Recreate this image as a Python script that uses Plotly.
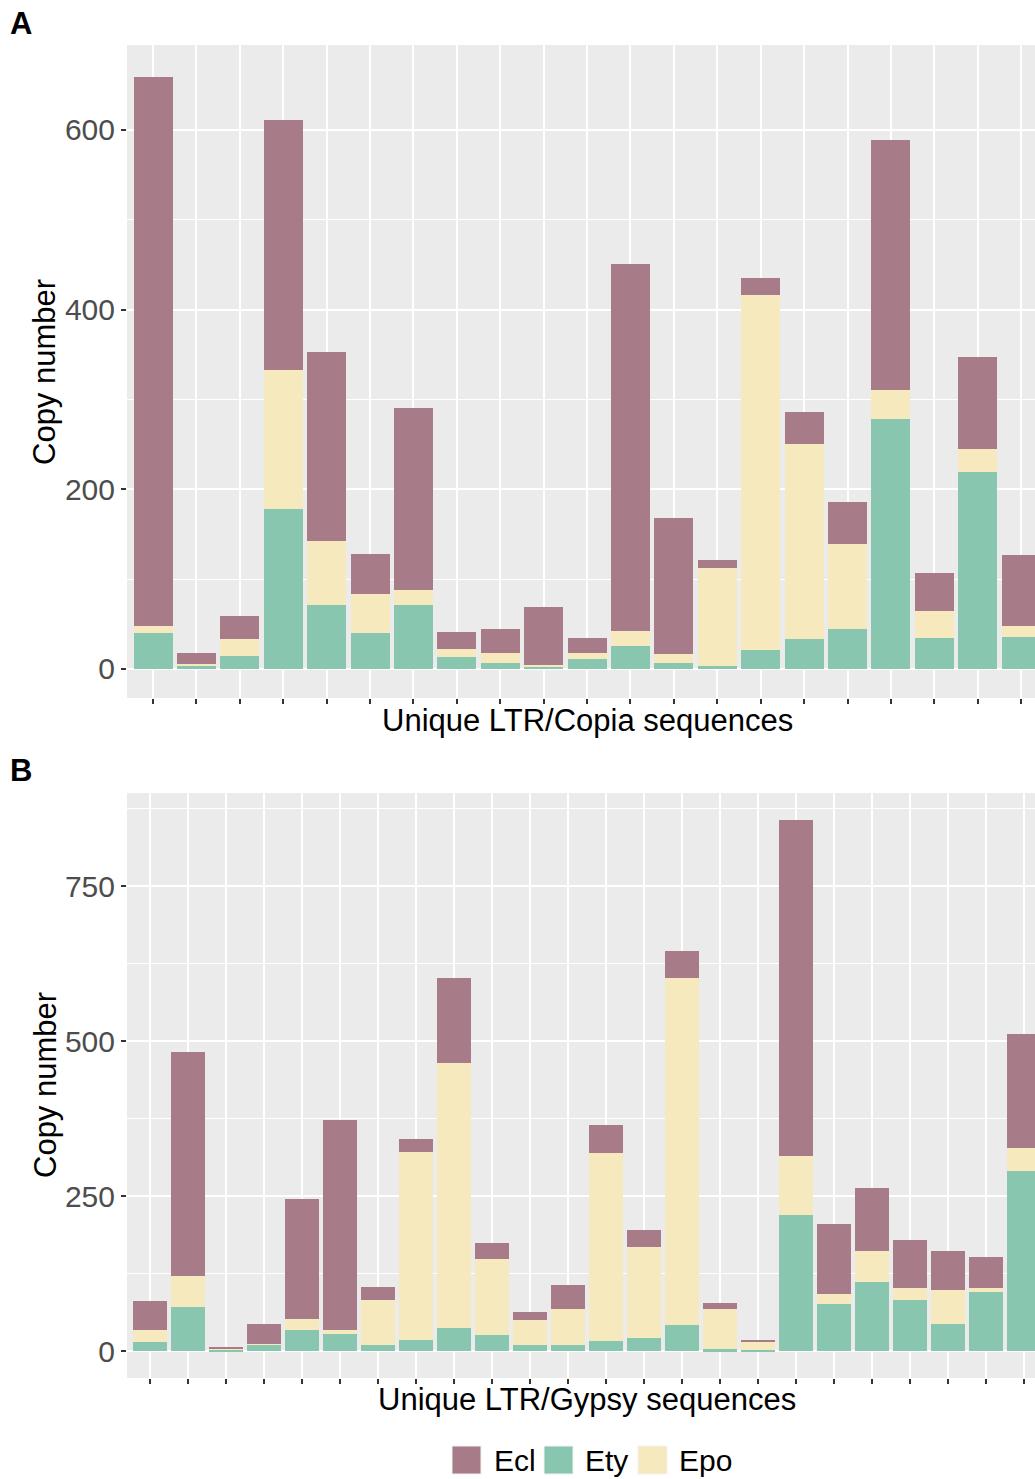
import plotly.graph_objects as go

# ---------------- data ----------------
series_names = ["Ecl", "Ety", "Epo"]
series_colors = {"Ecl": "#A77C88", "Ety": "#88C6B0", "Epo": "#F6E9BE"}

copia_categories = [f"Copia_{i:02d}" for i in range(1, 22)]
copia_ety = [40, 3, 15, 178, 71, 40, 71, 13, 7, 3, 11, 26, 7, 3, 21, 33, 45, 278, 35, 219, 36]
copia_epo = [8, 3, 18, 155, 72, 43, 17, 9, 11, 1, 7, 16, 10, 109, 395, 217, 94, 33, 29, 26, 12]
copia_ecl = [611, 12, 26, 278, 210, 45, 202, 19, 27, 65, 16, 409, 151, 9, 19, 36, 47, 278, 43, 102, 79]

gypsy_categories = [f"Gypsy_{i:02d}" for i in range(1, 25)]
gypsy_ety = [15, 71, 3, 10, 34, 28, 10, 17, 37, 26, 10, 10, 16, 21, 42, 3, 2, 219, 76, 111, 82, 44, 95, 290]
gypsy_epo = [19, 50, 1, 1, 18, 6, 72, 304, 428, 122, 40, 58, 304, 146, 560, 65, 12, 95, 16, 50, 20, 55, 7, 37]
gypsy_ecl = [47, 362, 2, 33, 194, 338, 22, 21, 136, 27, 13, 38, 45, 28, 43, 10, 4, 542, 113, 102, 77, 63, 49, 184]

copia_yticks = [0, 200, 400, 600]
gypsy_yticks = [0, 250, 500, 750]

# ---------------- figure ----------------
W, H = 1035, 1479
FONT = "Liberation Sans, Arial, Helvetica, sans-serif"

fig = go.Figure()

panels = [
    ("x", "y", copia_categories, {"Ety": copia_ety, "Epo": copia_epo, "Ecl": copia_ecl}),
    ("x2", "y2", gypsy_categories, {"Ety": gypsy_ety, "Epo": gypsy_epo, "Ecl": gypsy_ecl}),
]
for xa, ya, cats, vals in panels:
    for name in ["Ety", "Epo", "Ecl"]:  # stacking order bottom -> top
        fig.add_trace(go.Bar(
            x=cats, y=vals[name], name=name, width=0.9,
            marker=dict(color=series_colors[name], line=dict(width=0)),
            xaxis=xa, yaxis=ya, showlegend=False,
        ))

def px_x(p):
    return p / W

def px_y(p):
    return 1 - p / H

xdom = [px_x(127), 1.0]
common_x = dict(
    type="category", domain=xdom, showticklabels=False, ticks="outside",
    ticklen=5, tickwidth=1.5, tickcolor="#333333", showgrid=True,
    gridcolor="white", gridwidth=1.5, zeroline=False, showline=False,
)
common_y = dict(
    ticks="outside", ticklen=5, tickwidth=1.5, tickcolor="#333333",
    tickfont=dict(size=30, color="#4D4D4D", family=FONT),
    showgrid=True, gridcolor="white", gridwidth=1.5, zeroline=False, showline=False,
)

fig.update_layout(
    width=W, height=H, margin=dict(l=0, r=0, t=0, b=0),
    paper_bgcolor="white", plot_bgcolor="#EBEBEB",
    barmode="stack", bargap=0.1, showlegend=False,
    font=dict(family=FONT),
    xaxis=dict(common_x, anchor="y", range=[-0.6, 20.32]),
    yaxis=dict(common_y, anchor="x", domain=[px_y(698), px_y(45)],
               range=[-32.3, 694.6], tickvals=copia_yticks,
               minor=dict(dtick=100, tick0=0, showgrid=True, gridcolor="white", gridwidth=1, ticks="")),
    xaxis2=dict(common_x, anchor="y2", range=[-0.6, 23.29]),
    yaxis2=dict(common_y, anchor="x2", domain=[px_y(1378), px_y(793)],
                range=[-43.5, 900], tickvals=gypsy_yticks,
                minor=dict(dtick=125, tick0=0, showgrid=True, gridcolor="white", gridwidth=1, ticks="")),
)

annotations = []
title_font = dict(size=31, color="black", family=FONT)
# panel letters
annotations.append(dict(text="<b>A</b>", x=px_x(8), y=px_y(23), xref="paper", yref="paper",
                        xanchor="left", yanchor="middle", showarrow=False,
                        font=dict(size=31, color="black", family=FONT)))
annotations.append(dict(text="<b>B</b>", x=px_x(8), y=px_y(771), xref="paper", yref="paper",
                        xanchor="left", yanchor="middle", showarrow=False,
                        font=dict(size=31, color="black", family=FONT)))
# axis titles
annotations.append(dict(text="Unique LTR/Copia sequences", x=px_x(587), y=px_y(720),
                        xref="paper", yref="paper", xanchor="center", yanchor="middle",
                        showarrow=False, font=title_font))
annotations.append(dict(text="Unique LTR/Gypsy sequences", x=px_x(587), y=px_y(1399),
                        xref="paper", yref="paper", xanchor="center", yanchor="middle",
                        showarrow=False, font=title_font))
annotations.append(dict(text="Copy number", x=px_x(45), y=px_y(372), textangle=-90,
                        xref="paper", yref="paper", xanchor="center", yanchor="middle",
                        showarrow=False, font=title_font))
annotations.append(dict(text="Copy number", x=px_x(45), y=px_y(1085), textangle=-90,
                        xref="paper", yref="paper", xanchor="center", yanchor="middle",
                        showarrow=False, font=title_font))

# legend (keys + labels)
shapes = []
key_left = {"Ecl": 452, "Ety": 544, "Epo": 638}
text_left = {"Ecl": 492, "Ety": 583, "Epo": 677}
for name in series_names:
    shapes.append(dict(type="rect", xref="paper", yref="paper",
                       x0=px_x(key_left[name]), x1=px_x(key_left[name] + 29),
                       y0=px_y(1474), y1=px_y(1446),
                       fillcolor=series_colors[name], line=dict(color="#F2F2F2", width=1)))
    annotations.append(dict(text=name, x=px_x(text_left[name]), y=px_y(1460),
                            xref="paper", yref="paper", xanchor="left", yanchor="middle",
                            showarrow=False, font=dict(size=30, color="black", family=FONT)))

fig.update_layout(annotations=annotations, shapes=shapes)

fig.write_html("out.html")
